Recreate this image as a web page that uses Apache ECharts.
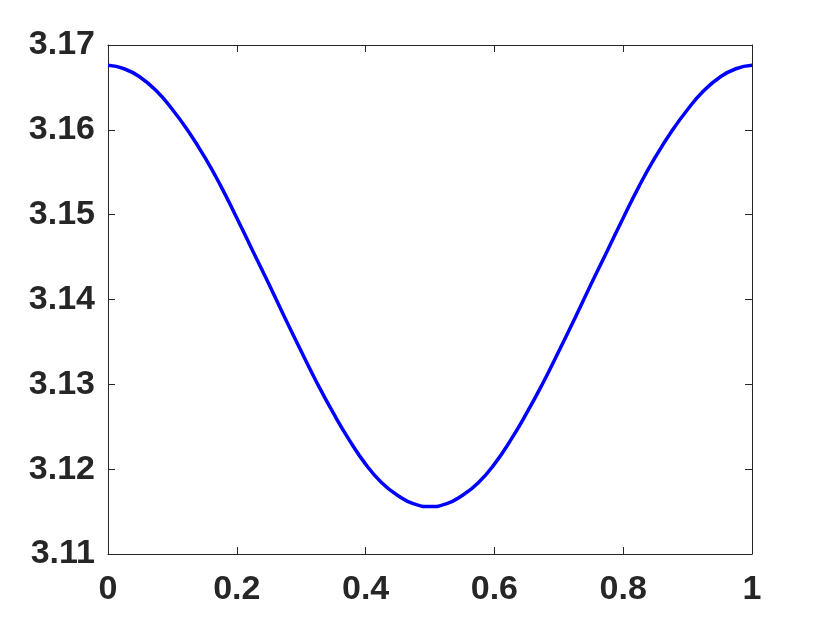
<!DOCTYPE html>
<html>
<head>
<meta charset="utf-8">
<script src="https://cdn.jsdelivr.net/npm/echarts@6/dist/echarts.min.js"></script>
<style>html,body{margin:0;padding:0;background:#fff}#c{width:830px;height:623px}</style>
</head>
<body>
<div id="c"></div>
<script>
const xValues = [0, 0.025, 0.05, 0.075, 0.1, 0.125, 0.15, 0.175, 0.2, 0.225, 0.25, 0.275, 0.3, 0.325, 0.35, 0.375, 0.4, 0.425, 0.45, 0.475, 0.5,
                 0.525, 0.55, 0.575, 0.6, 0.625, 0.65, 0.675, 0.7, 0.725, 0.75, 0.775, 0.8, 0.825, 0.85, 0.875, 0.9, 0.925, 0.95, 0.975, 1];
const yValues = [3.1676, 3.1672, 3.1662, 3.1646, 3.1624, 3.1598, 3.1568, 3.1534, 3.1496, 3.1457, 3.1418, 3.1378, 3.1339, 3.1301, 3.1266, 3.1234, 3.1206, 3.1184, 3.1169, 3.1159, 3.1156,
                 3.1159, 3.1169, 3.1184, 3.1206, 3.1234, 3.1266, 3.1301, 3.1339, 3.1378, 3.1418, 3.1457, 3.1496, 3.1534, 3.1568, 3.1598, 3.1624, 3.1646, 3.1662, 3.1672, 3.1676];
const xTicks = [0, 0.2, 0.4, 0.6, 0.8, 1];
const yTicks = [3.11, 3.12, 3.13, 3.14, 3.15, 3.16, 3.17];

const axisColor = '#262626';
const labelStyle = {color: axisColor, fontFamily: '"Liberation Sans", Arial, sans-serif', fontWeight: 'bold', fontSize: 34};
const lineStyle = {show: true, onZero: false, lineStyle: {color: axisColor, width: 1}};
const tickStyle = {show: true, inside: true, length: 7, lineStyle: {color: axisColor, width: 1}};

const chart = echarts.init(document.getElementById('c'));
chart.setOption({
  animation: false,
  backgroundColor: '#fff',
  grid: {left: 108, top: 45, right: 78, bottom: 69, containLabel: false},
  xAxis: [
    {type: 'value', min: xTicks[0], max: xTicks[xTicks.length - 1], interval: 0.2, position: 'bottom',
     axisLine: lineStyle, axisTick: tickStyle, splitLine: {show: false},
     axisLabel: Object.assign({margin: 19, formatter: v => String(+v.toFixed(1))}, labelStyle)},
    {type: 'value', min: xTicks[0], max: xTicks[xTicks.length - 1], interval: 0.2, position: 'top',
     axisLine: lineStyle, axisTick: tickStyle, splitLine: {show: false}, axisLabel: {show: false}}
  ],
  yAxis: [
    {type: 'value', min: yTicks[0], max: yTicks[yTicks.length - 1], interval: 0.01, position: 'left',
     axisLine: lineStyle, axisTick: tickStyle, splitLine: {show: false},
     axisLabel: Object.assign({margin: 13, formatter: v => v.toFixed(2)}, labelStyle)},
    {type: 'value', min: yTicks[0], max: yTicks[yTicks.length - 1], interval: 0.01, position: 'right',
     axisLine: lineStyle, axisTick: tickStyle, splitLine: {show: false}, axisLabel: {show: false}}
  ],
  series: [{
    type: 'line',
    data: xValues.map((x, i) => [x, yValues[i]]),
    smooth: 0.5,
    showSymbol: false,
    lineStyle: {color: '#0000ff', width: 3.5},
    xAxisIndex: 0, yAxisIndex: 0
  }]
});
</script>
</body>
</html>
